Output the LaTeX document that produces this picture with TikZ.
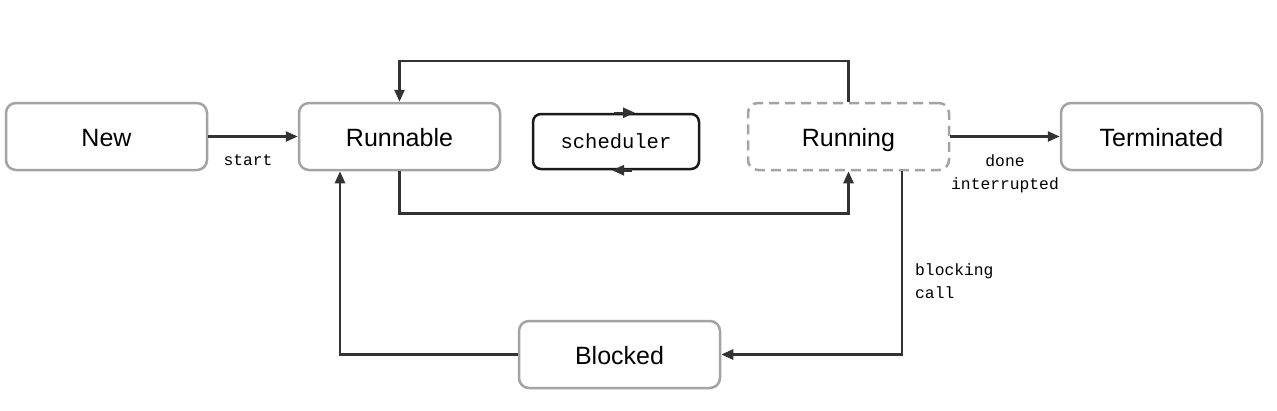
\documentclass[tikz,border=0pt]{standalone}
\usepackage{fontspec}
\setmainfont{Liberation Sans}
\setmonofont{Liberation Mono}
\usetikzlibrary{arrows.meta}
\definecolor{stategray}{HTML}{A3A3A3}
\definecolor{conncol}{HTML}{333333}
\definecolor{schedcol}{HTML}{1A1A1A}
\begin{document}
\begin{tikzpicture}[x=1pt,y=-1pt,
  state/.style={draw=stategray, line width=2.5pt, rounded corners=10pt, fill=white,
    minimum width=201pt, minimum height=67pt, inner sep=0pt,
    text height=19pt, text depth=0pt,
    font=\fontsize{25}{29}\selectfont},
  schedbox/.style={draw=schedcol, line width=2.5pt, rounded corners=8pt, fill=white,
    minimum width=166pt, minimum height=55pt, inner sep=0pt,
    font=\ttfamily\fontsize{20.5}{24}\selectfont},
  conn/.style={draw=conncol, line width=2.5pt, -{Triangle[length=12pt,width=10pt]}},
  lbl/.style={font=\ttfamily\fontsize{16.3}{23}\selectfont, inner sep=0pt}]
\useasboundingbox (0,0) rectangle (1277,410);
\node[state] (new) at (106.5,136.5) {New};
\node[state] (runnable) at (399.5,136.5) {Runnable};
\node[schedbox] (sched) at (616,141.5) {scheduler};
\node[state, dash pattern=on 10pt off 6pt] (running) at (848.5,136.5) {Running};
\node[state] (term) at (1161.5,136.5) {Terminated};
\node[state] (blocked) at (619.5,354.5) {Blocked};
\draw[conn] (new) -- (runnable);
\draw[conn] (runnable.south) -- ++(0,42) -| (running.south);
\draw[conn] (running.north) -- ++(0,-41) -| (runnable.north);
\draw[conn] (running) -- (term);
\draw[conn] ([xshift=53.5pt]running.south) |- (blocked.east);
\draw[conn] (blocked.west) -| ([xshift=-59.5pt]runnable.south);
\draw[conn] ([xshift=-2pt]sched.north) -- ([xshift=19pt]sched.north);
\draw[conn] ([xshift=16pt]sched.south) -- ([xshift=-4pt]sched.south);
\node[lbl] (startlbl) at (248,160) {start};
\node[lbl, align=center] (donelbl) at (1005,173.5) {done\\interrupted};
\node[lbl, align=left, anchor=west] (blocklbl) at (915,281.5) {blocking\\call};
\end{tikzpicture}
\end{document}
